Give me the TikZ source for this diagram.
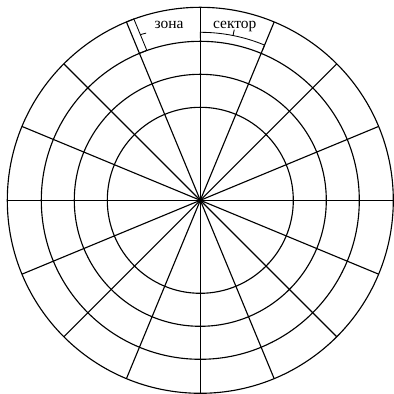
\documentclass[tikz,border=0pt]{standalone}
\usepackage{fontspec}
\setmainfont{Liberation Serif}
\usetikzlibrary{calc, positioning}

\begin{document}
\begin{tikzpicture}[x=0.025cm, y=0.025cm, line width=0.8pt,
    label/.style={font=\fontsize{11}{13}\selectfont, inner sep=0pt, anchor=base},
    bracket/.style={line width=0.6pt}]

    % =================================================================
    % 1. KHUNG VA TAM
    % =================================================================
    \useasboundingbox (-200.3,-193.7) rectangle (193.7,200.3);
    \coordinate (O) at (0,0);

    % =================================================================
    % 2. CAC VONG TRON (ZONA) VA CAC TIA (SEKTOR)
    % =================================================================
    \foreach \r in {93,126,159,193}
        \draw (O) circle (\r);
    \foreach \a in {0,22.5,...,337.5}
        \draw (O) -- (\a:193);

    % =================================================================
    % 3. DAU NGOAC ZONA (doc theo tia 112.5 do)
    % =================================================================
    \coordinate (Zt) at (112.5:193);
    \coordinate (Zb) at (112.5:159);
    \draw[bracket] (Zt) -- ($(Zt)+(22.5:8)$) -- ($(Zb)+(22.5:8)$) -- (Zb);
    \draw[bracket] ($(112.5:176)+(22.5:8)$) -- ++(15:6);

    % =================================================================
    % 4. DAU NGOAC SEKTOR (cung giua 90 va 67.5 do)
    % =================================================================
    \draw[bracket] (90:162) -- (90:168) arc (90:67.5:168) -- (67.5:162);
    \draw[bracket] (78.75:168) -- (78.75:174);

    % =================================================================
    % 5. NHAN
    % =================================================================
    \node[label] (zona) at (-31.3,172) {зона};
    \node[label] (sektor) at (34.5,172) {сектор};

\end{tikzpicture}
\end{document}
